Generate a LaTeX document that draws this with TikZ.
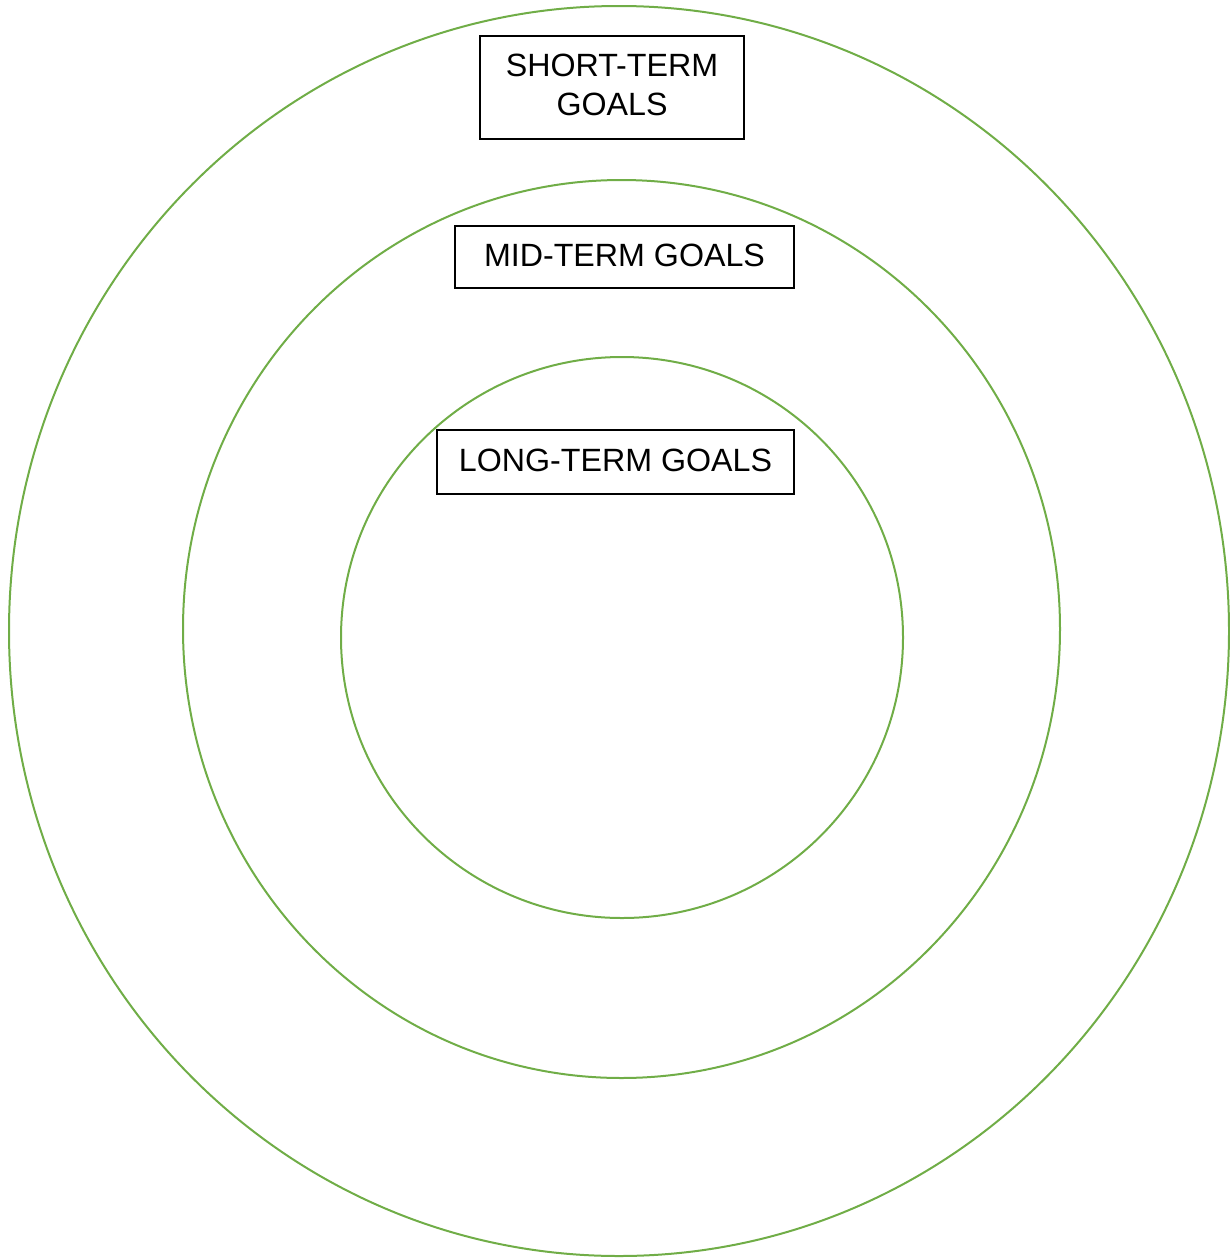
\documentclass[tikz,border=0pt]{standalone}
\usepackage{fontspec}
\setmainfont{Liberation Sans}
\definecolor{ringgreen}{HTML}{70AD47}
\begin{document}
\begin{tikzpicture}[x=1pt,y=-1pt,
  ring/.style={draw=ringgreen,line width=2pt},
  goalbox/.style={draw=black,line width=1.1pt,fill=white,inner sep=0pt},
  goaltext/.style={inner sep=0pt,align=center,text=black,
    font=\fontsize{32.2}{39.5}\selectfont}]
\useasboundingbox (0,0) rectangle (1230,1258);
% concentric rings
\draw[ring] (619,631) ellipse [x radius=610pt,y radius=625pt];
\draw[ring] (621.5,629) ellipse [x radius=438.5pt,y radius=449pt];
\draw[ring] (622,637.5) ellipse [x radius=281pt,y radius=280.5pt];
% label frames
\node[goalbox,minimum width=264pt,minimum height=103pt] (shortbox) at (612,87.5) {};
\node[goalbox,minimum width=339pt,minimum height=62pt] (midbox) at (624.5,257) {};
\node[goalbox,minimum width=357pt,minimum height=64pt] (longbox) at (615.5,462) {};
% label texts
\node[goaltext] (short) at ([yshift=2.5pt]shortbox.center) {SHORT-TERM\\GOALS};
\node[goaltext] (mid) at ([yshift=2pt]midbox.center) {MID-TERM GOALS};
\node[goaltext] (long) at ([yshift=2pt]longbox.center) {LONG-TERM GOALS};
\end{tikzpicture}
\end{document}
